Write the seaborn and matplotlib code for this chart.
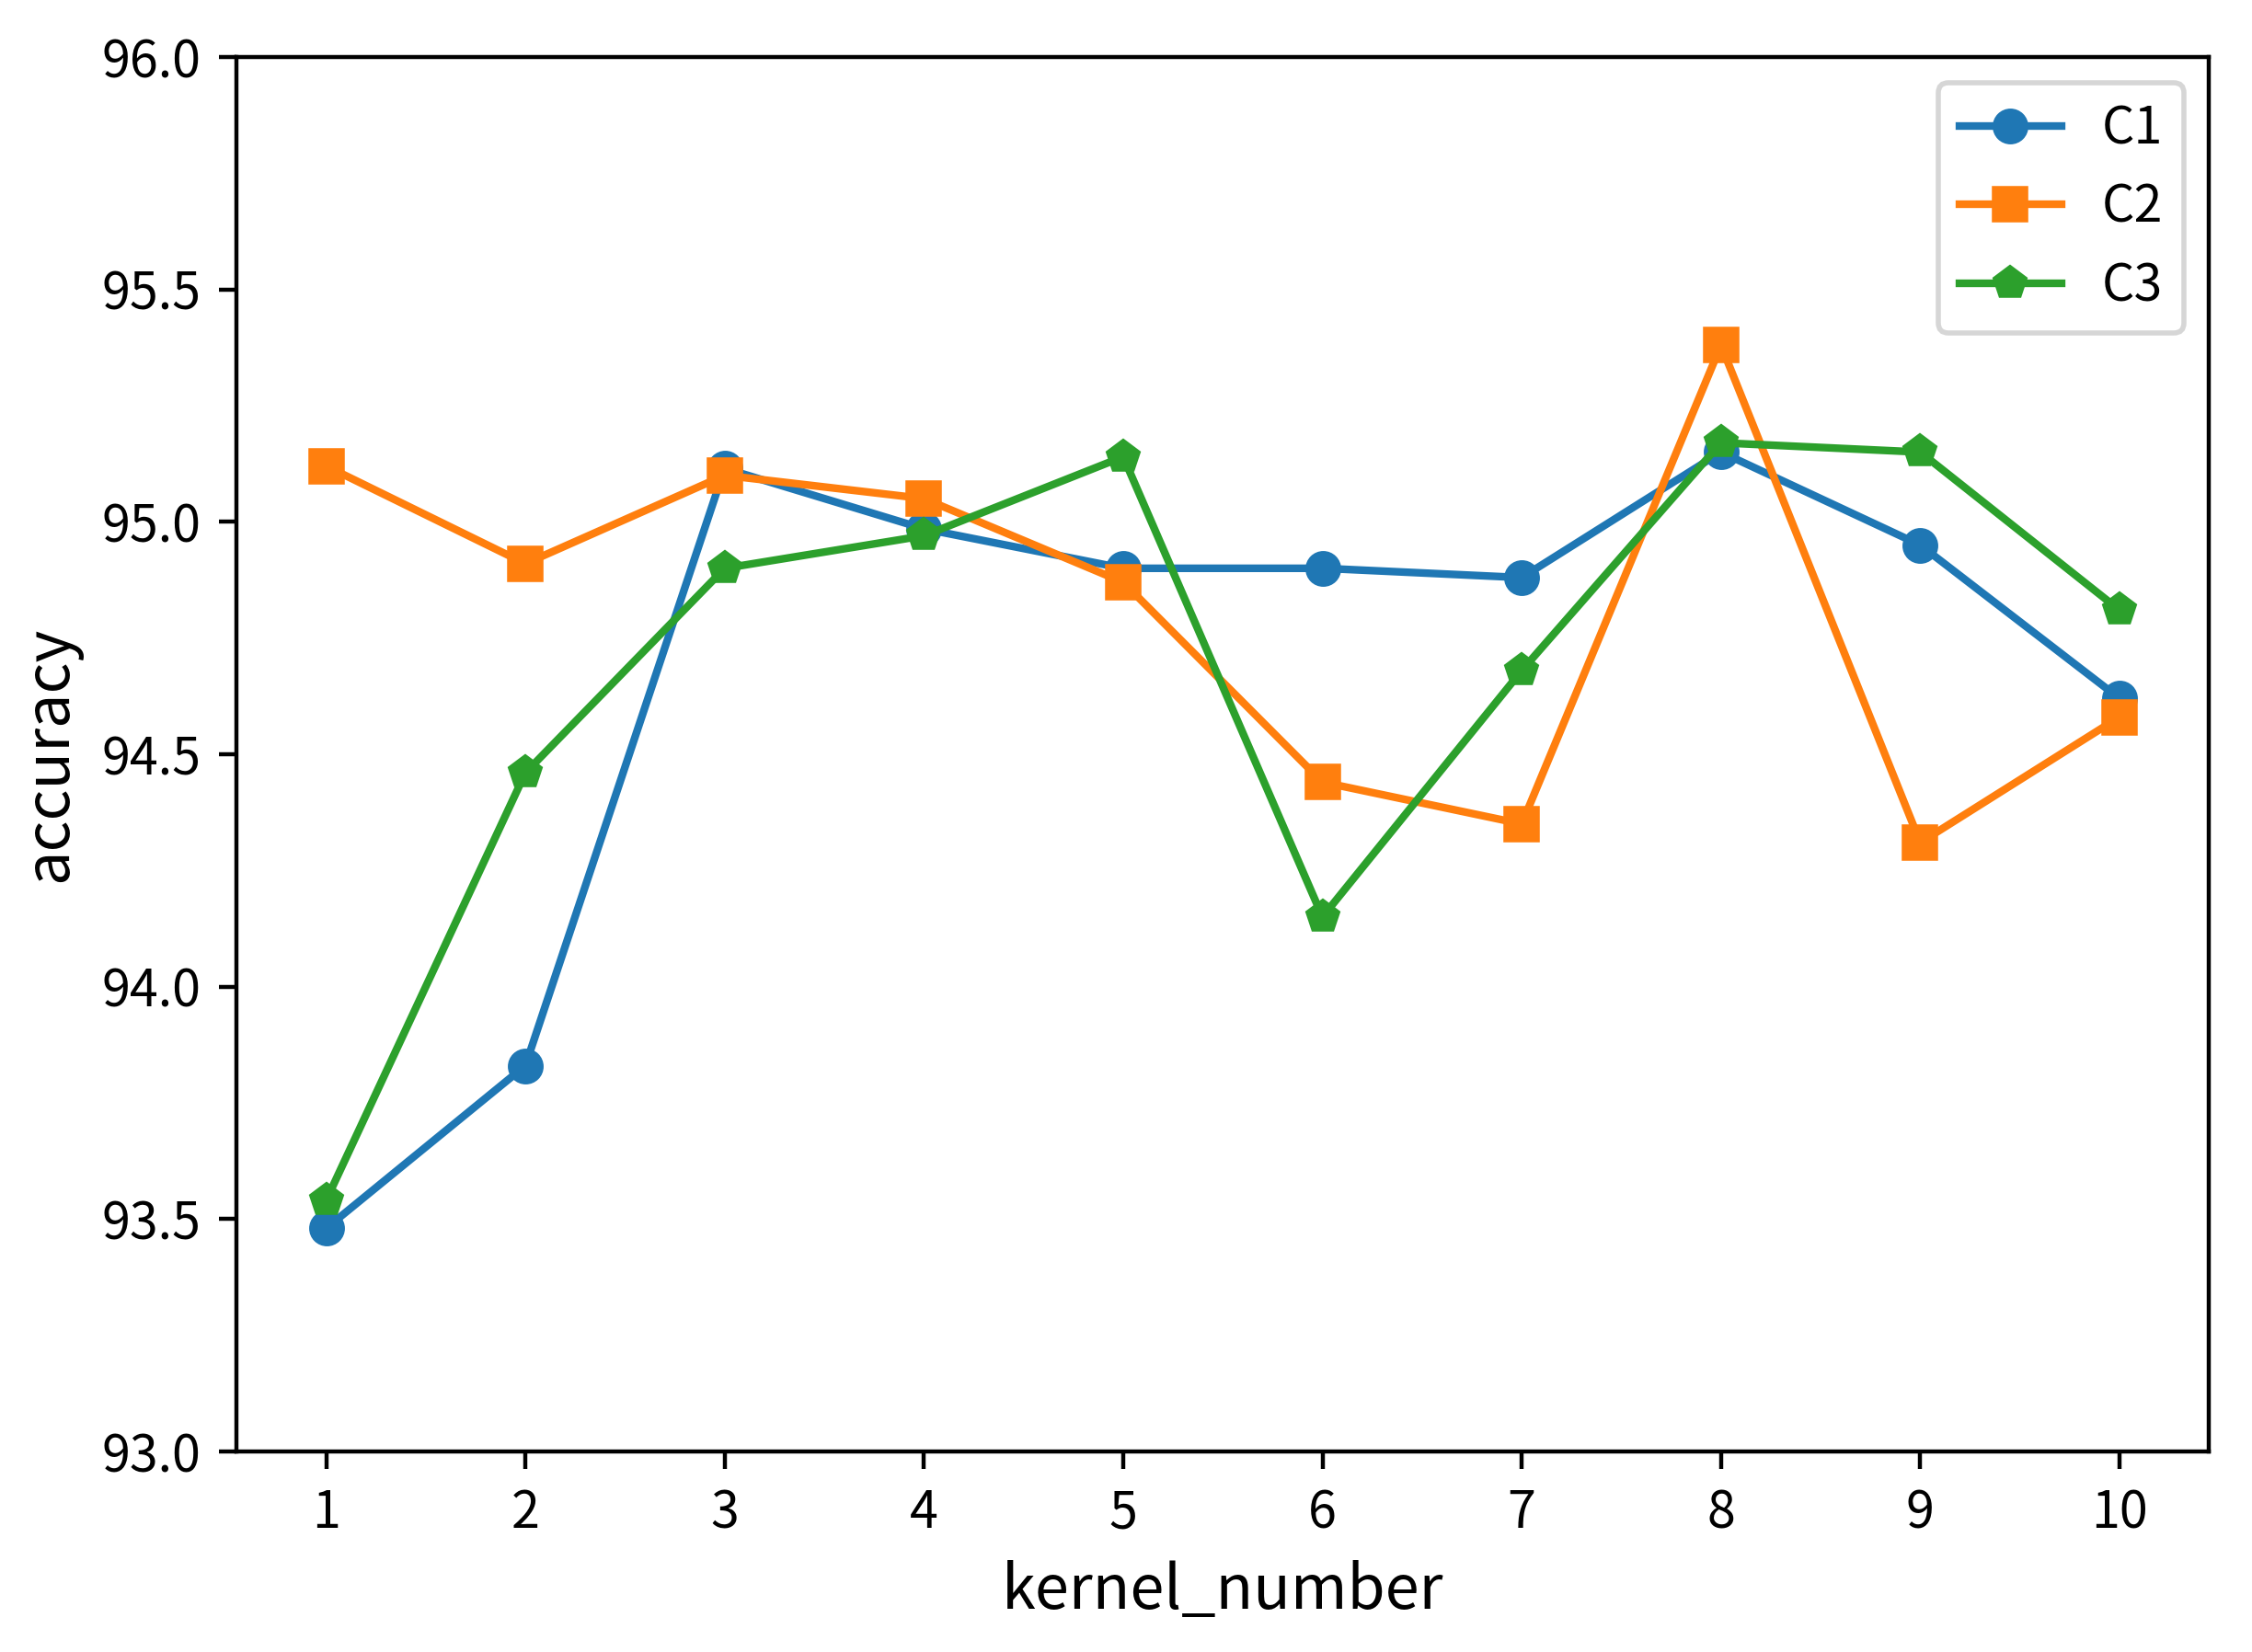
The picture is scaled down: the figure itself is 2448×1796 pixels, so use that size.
import matplotlib
matplotlib.use("Agg")
import matplotlib.pyplot as plt
import seaborn as sns
import pandas as pd

plt.rcParams['font.family'] = ['Noto Sans CJK KR', 'DejaVu Sans']

kernel_number = [1, 2, 3, 4, 5, 6, 7, 8, 9, 10]
c1 = [93.48, 93.83, 95.115, 94.985, 94.90, 94.90, 94.88, 95.15, 94.95, 94.62]
c2 = [95.12, 94.91, 95.10, 95.05, 94.87, 94.44, 94.35, 95.38, 94.31, 94.58]
c3 = [93.54, 94.46, 94.90, 94.97, 95.14, 94.15, 94.68, 95.17, 95.15, 94.81]
series_names = ["C1", "C2", "C3"]
colors = ["#1f77b4", "#ff7f0e", "#2ca02c"]
markers = ["o", "s", "p"]

df = pd.DataFrame({
    "kernel_number": kernel_number * 3,
    "accuracy": c1 + c2 + c3,
    "series": sum([[n] * len(kernel_number) for n in series_names], []),
})

fig = plt.figure(figsize=(6.12, 4.49), dpi=400)
ax = fig.add_axes([0.105, 0.1214, 0.876, 0.8441])
sns.lineplot(data=df, x="kernel_number", y="accuracy", hue="series", style="series",
             markers=markers, dashes=False, palette=colors, ax=ax,
             linewidth=1.5, markersize=6)
for ln in ax.lines:
    ln.set_markeredgecolor(ln.get_color())
    ln.set_markeredgewidth(1.0)

ax.set_ylim(93.0, 96.0)
ax.set_xlim(0.55, 10.45)
ax.set_xticks(kernel_number)
ax.set_yticks([93.0, 93.5, 94.0, 94.5, 95.0, 95.5, 96.0])
ax.set_yticklabels(["93.0", "93.5", "94.0", "94.5", "95.0", "95.5", "96.0"])
ax.tick_params(labelsize=10)
ax.set_xlabel("kernel_number", fontsize=12)
ax.set_ylabel("accuracy", fontsize=12)
leg = ax.legend(loc="upper right", fontsize=10, title=None)
for h in leg.legend_handles:
    try:
        h.set_markeredgecolor(h.get_color())
    except Exception:
        pass
fig.savefig("out.png", dpi=400)
